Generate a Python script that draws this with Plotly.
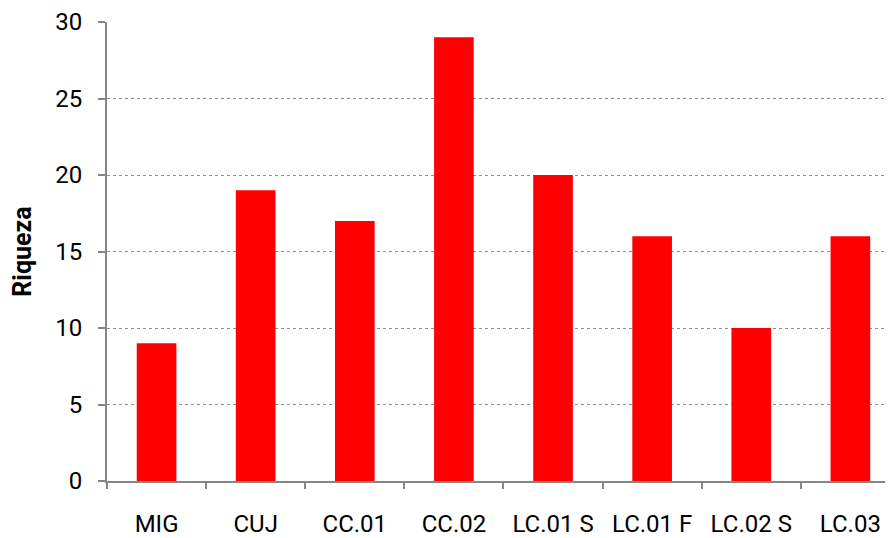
import plotly.graph_objects as go

categories = ["MIG", "CUJ", "CC.01", "CC.02", "LC.01 S", "LC.01 F", "LC.02 S", "LC.03"]
riqueza = [9, 19, 17, 29, 20, 16, 10, 16]
y_ticks = [0, 5, 10, 15, 20, 25, 30]

fig = go.Figure(go.Bar(x=categories, y=riqueza, marker=dict(color="#FF0000", line=dict(width=0)), width=0.4))

fig.update_layout(
    width=885, height=530,
    margin=dict(l=99, r=0, t=14, b=54),
    plot_bgcolor="white", paper_bgcolor="white",
    font=dict(family="Roboto, Liberation Sans, Arial, sans-serif", size=24, color="black"),
    showlegend=False,
)
fig.update_xaxes(
    range=[-0.5, 7.43], showline=True, linecolor="#868686", linewidth=2,
    ticks="outside", tickson="boundaries", ticklen=6, tickcolor="#868686", tickwidth=1.5,
    ticklabelstandoff=20, showgrid=False, zeroline=False,
)
fig.update_yaxes(
    range=[0, 30], tickvals=y_ticks, showline=True, linecolor="#868686", linewidth=2,
    ticks="outside", ticklen=7, tickcolor="#868686", tickwidth=1.5,
    ticklabelstandoff=11,
    showgrid=True, gridcolor="#8c8c8c", griddash="dot", gridwidth=1, zeroline=False,
    title=dict(text="<b>Riqueza</b>", font=dict(size=25), standoff=16),
)
fig.write_html("out.html")
